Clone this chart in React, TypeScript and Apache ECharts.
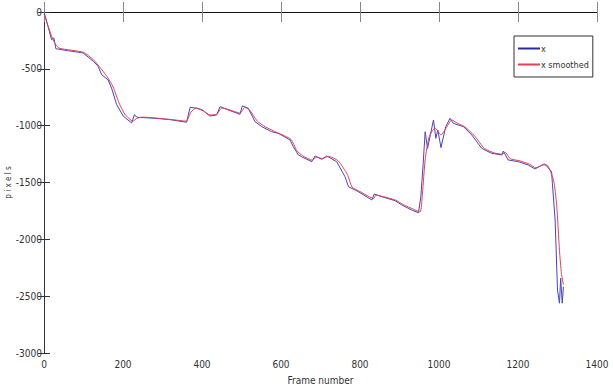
import React, { useEffect, useRef } from "react";
import * as echarts from "echarts";

const xTicks = [0, 200, 400, 600, 800, 1000, 1200, 1400];
const yTicks = [0, -500, -1000, -1500, -2000, -2500, -3000];

const seriesNames = ["x", "x smoothed"];

const xRaw: [number, number][] = [
  [0, 0], [5, -60], [12, -150], [19, -243], [25, -229], [30, -323], [60, -340], [99, -360],
  [125, -434], [137, -478], [146, -552], [162, -596], [171, -669], [184, -815], [201, -918],
  [222, -976], [229, -903], [235, -926], [280, -935], [319, -947], [361, -970], [370, -838],
  [387, -847], [403, -868], [420, -915], [437, -906], [446, -832], [462, -856], [496, -900],
  [502, -826], [517, -847], [534, -964], [551, -1008], [576, -1053], [593, -1067], [623, -1126],
  [631, -1184], [644, -1258], [652, -1273], [678, -1317], [686, -1267], [703, -1296], [716, -1267],
  [741, -1317], [762, -1449], [771, -1537], [796, -1581], [830, -1654], [836, -1601], [855, -1625],
  [889, -1660], [906, -1698], [931, -1742], [948, -1766], [954, -1625], [960, -1331], [965, -1053],
  [971, -1200], [986, -950], [992, -1111], [997, -1038], [1005, -1193], [1017, -1009], [1028, -935],
  [1036, -979], [1062, -1009], [1083, -1082], [1108, -1199], [1133, -1243], [1159, -1258],
  [1163, -1223], [1175, -1302], [1201, -1317], [1226, -1346], [1243, -1381], [1264, -1340],
  [1268, -1337], [1285, -1405], [1287, -1507], [1294, -1830], [1300, -2446], [1305, -2562],
  [1308, -2342], [1312, -2562], [1315, -2416],
];

const xSmoothed: [number, number][] = [
  [0, -20], [10, -120], [20, -220], [30, -290], [40, -320], [100, -355], [125, -420], [140, -480],
  [160, -570], [175, -660], [190, -800], [205, -900], [225, -960], [235, -935], [250, -925],
  [320, -945], [360, -960], [372, -880], [385, -845], [400, -860], [420, -905], [437, -900],
  [450, -845], [465, -855], [497, -890], [508, -840], [520, -860], [540, -960], [560, -1010],
  [590, -1060], [625, -1120], [640, -1220], [655, -1265], [680, -1305], [690, -1275], [705, -1290],
  [720, -1270], [745, -1310], [768, -1430], [780, -1540], [800, -1580], [835, -1640], [840, -1610],
  [860, -1625], [890, -1655], [910, -1695], [935, -1735], [952, -1760], [958, -1600], [965, -1300],
  [975, -1100], [990, -1020], [1005, -1080], [1020, -1010], [1032, -950], [1045, -975],
  [1065, -1010], [1090, -1090], [1115, -1200], [1140, -1240], [1160, -1250], [1168, -1235],
  [1180, -1290], [1205, -1310], [1230, -1340], [1245, -1370], [1265, -1345], [1275, -1350],
  [1290, -1480], [1298, -1700], [1305, -2100], [1310, -2300], [1315, -2400],
];

const FONT = "'Liberation Sans Narrow', 'DejaVu Sans Condensed', 'Liberation Sans', sans-serif";
const plain = (v: number) => String(v);

export default function App() {
  const ref = useRef<HTMLDivElement>(null);
  useEffect(() => {
    if (!ref.current) return;
    const chart = echarts.init(ref.current, undefined, { renderer: "svg" });
    const axisLine = { show: true, lineStyle: { color: "#333", width: 1 } };
    chart.setOption({
      animation: false,
      backgroundColor: "#fff",
      grid: { left: 44, top: 12, right: 16, bottom: 38, show: false, containLabel: false, outerBoundsMode: "none" },
      legend: {
        orient: "vertical",
        left: 514,
        top: 36,
        padding: [8, 4, 8, 4],
        itemGap: 7,
        itemWidth: 22,
        itemHeight: 2,
        icon: "rect",
        borderColor: "#333",
        borderWidth: 1,
        backgroundColor: "#fff",
        textStyle: { fontFamily: FONT, fontSize: 9, color: "#333", padding: [0, 0, 0, -4] },
        data: seriesNames,
      },
      xAxis: [
        {
          type: "value",
          min: xTicks[0],
          max: xTicks[xTicks.length - 1],
          interval: 200,
          position: "bottom",
          name: "Frame number",
          nameLocation: "middle",
          nameGap: 22,
          nameMoveOverlap: false,
          nameTextStyle: { fontFamily: FONT, fontSize: 10, color: "#333" },
          axisLine,
          axisTick: { show: true, inside: true, length: 10, lineStyle: { color: "#888" } },
          axisLabel: { fontFamily: FONT, fontSize: 10, color: "#333", margin: 6, formatter: plain },
          splitLine: { show: false },
        },
        {
          type: "value",
          min: xTicks[0],
          max: xTicks[xTicks.length - 1],
          interval: 200,
          position: "top",
          axisLine: { show: true, lineStyle: { color: "#111", width: 1 } },
          axisTick: { show: true, inside: true, length: 10, lineStyle: { color: "#888" } },
          axisLabel: { show: false },
          splitLine: { show: false },
        },
      ],
      yAxis: [
        {
          type: "value",
          min: yTicks[yTicks.length - 1],
          max: yTicks[0],
          interval: 500,
          position: "left",
          name: "p i x e l s",
          nameLocation: "middle",
          nameGap: 32,
          nameMoveOverlap: false,
          nameRotate: 90,
          nameTextStyle: { fontFamily: FONT, fontSize: 8, color: "#333" },
          axisLine,
          axisTick: { show: true, inside: true, length: 6, lineStyle: { color: "#333" } },
          axisLabel: { fontFamily: FONT, fontSize: 10, color: "#333", margin: 2, formatter: plain },
          splitLine: { show: false },
        },
        {
          type: "value",
          min: yTicks[yTicks.length - 1],
          max: yTicks[0],
          interval: 500,
          position: "right",
          axisLine,
          axisTick: { show: true, inside: true, length: 6, lineStyle: { color: "#333" } },
          axisLabel: { show: false },
          splitLine: { show: false },
        },
      ],
      series: [
        {
          name: seriesNames[0],
          type: "line",
          data: xRaw,
          symbol: "none",
          color: "#2b2b9e",
          lineStyle: { width: 1, color: "#4545b8" },
          xAxisIndex: 0,
          yAxisIndex: 0,
        },
        {
          name: seriesNames[1],
          type: "line",
          data: xSmoothed,
          symbol: "none",
          smooth: 0.2,
          color: "#e0405a",
          lineStyle: { width: 1, color: "#e0405a" },
          xAxisIndex: 0,
          yAxisIndex: 0,
        },
      ],
    });
    return () => chart.dispose();
  }, []);
  return (
    <div
      ref={ref}
      style={{ position: "fixed", left: 0, top: 0, width: 613, height: 391, background: "#fff" }}
    />
  );
}
